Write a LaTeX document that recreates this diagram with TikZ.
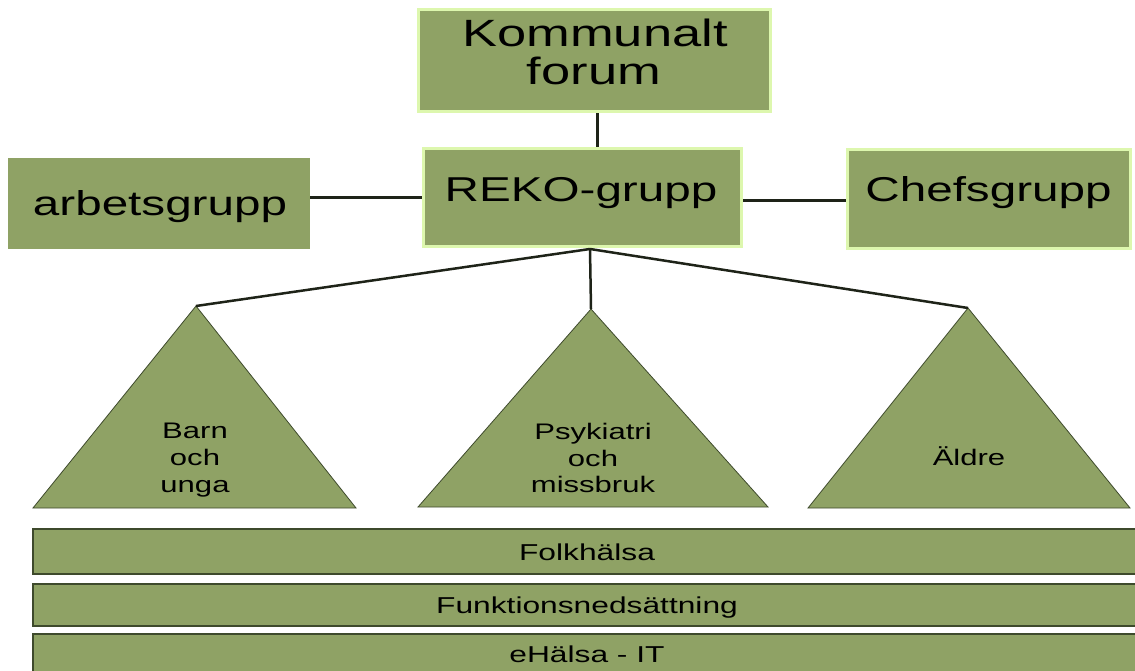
\documentclass[tikz,border=0pt]{standalone}
\usepackage{fontspec}
\setmainfont{Liberation Sans}
\newfontfamily\wide[FakeStretch=1.38]{Liberation Sans}
\usetikzlibrary{backgrounds}
\definecolor{boxgreen}{HTML}{8FA265}
\definecolor{rimgreen}{HTML}{DDF7AE}
\definecolor{edgedark}{HTML}{3E4A2C}
\definecolor{linkdark}{HTML}{1E2318}
\tikzset{
  box/.style={rectangle, fill=boxgreen, draw=rimgreen, line width=3pt, inner sep=0pt, outer sep=0pt},
  plainbox/.style={rectangle, fill=boxgreen, inner sep=0pt, outer sep=0pt},
  bar/.style={rectangle, fill=boxgreen, draw=edgedark, line width=1.2pt, inner sep=0pt, outer sep=0pt},
  tri/.style={fill=boxgreen, draw=edgedark, line width=0.8pt, line join=miter},
  link/.style={draw=linkdark, line width=3pt},
  thinlink/.style={draw=linkdark, line width=2.5pt},
  bigtxt/.style={anchor=base, inner sep=0pt, text=black, font=\wide\fontsize{34.5}{40}\selectfont},
  hugetxt/.style={anchor=base, inner sep=0pt, text=black, font=\wide\fontsize{38}{40}\selectfont},
  tritxt/.style={anchor=base, inner sep=0pt, text=black, font=\wide\fontsize{22.5}{26}\selectfont},
  bartxt/.style={anchor=base, inner sep=0pt, text=black, font=\wide\fontsize{23}{26}\selectfont},
}
\begin{document}
\begin{tikzpicture}[x=1pt,y=-1pt]
\useasboundingbox (0,0) rectangle (1135,671);
\clip (0,0) rectangle (1135,671);

% boxes
\node[box, minimum width=352pt, minimum height=102pt] (kf) at (594.5,60.5) {};
\node[box, minimum width=318pt, minimum height=98pt] (reko) at (582.5,197.5) {};
\node[plainbox, minimum width=302pt, minimum height=91pt] (arb) at (159,203.5) {};
\node[box, minimum width=283pt, minimum height=99pt] (chef) at (989,199) {};

\node[hugetxt] (kft1) at (595,47) {Kommunalt};
\node[hugetxt] (kft2) at (594,85) {forum};
\node[bigtxt] (rekot) at (581,202) {REKO-grupp};
\node[bigtxt] (arbt) at (160,215) {arbetsgrupp};
\node[bigtxt] (cheft) at (988.5,202) {Chefsgrupp};

% triangle apexes and REKO bottom
\coordinate (rb) at (590,249);
\coordinate (apex1) at (196,306);
\coordinate (apex2) at (591,309);
\coordinate (apex3) at (968,308);

\draw[tri] (apex1) -- (33,508) -- (356,508) -- cycle;
\draw[tri] (apex2) -- (418,507) -- (768,507) -- cycle;
\draw[tri] (apex3) -- (808,508) -- (1130,508) -- cycle;

\node[tritxt] (t1a) at (195,438) {Barn};
\node[tritxt] (t1b) at (195,465) {och};
\node[tritxt] (t1c) at (195,492) {unga};
\node[tritxt] (t2a) at (593,439) {Psykiatri};
\node[tritxt] (t2b) at (593,466) {och};
\node[tritxt] (t2c) at (593,492) {missbruk};
\node[tritxt] (t3a) at (969,465) {Äldre};

% bars
\node[bar, minimum width=1108pt, minimum height=45pt] (b1) at (587,551.5) {};
\node[bar, minimum width=1108pt, minimum height=42pt] (b2) at (587,605) {};
\node[bar, minimum width=1108pt, minimum height=40pt] (b3) at (587,654) {};
\node[bartxt] (b1t) at (587,560) {Folkhälsa};
\node[bartxt] (b2t) at (587,613) {Funktionsnedsättning};
\node[bartxt] (b3t) at (587,662) {eHälsa - IT};

% connectors
\begin{pgfonlayer}{background}
\draw[link] ([xshift=2.5pt]kf.south) -- ([xshift=2.5pt]kf.south |- reko.north);
\draw[link] ([yshift=5.5pt]arb.east) -- ([yshift=5.5pt]arb.east -| reko.west);
\draw[link] ([yshift=-2pt]chef.west -| reko.east) -- ([yshift=-2pt]chef.west);
\end{pgfonlayer}
\draw[thinlink] (rb) -- (apex1);
\draw[thinlink] (rb) -- (apex2);
\draw[thinlink] (rb) -- (apex3);
\end{tikzpicture}
\end{document}
